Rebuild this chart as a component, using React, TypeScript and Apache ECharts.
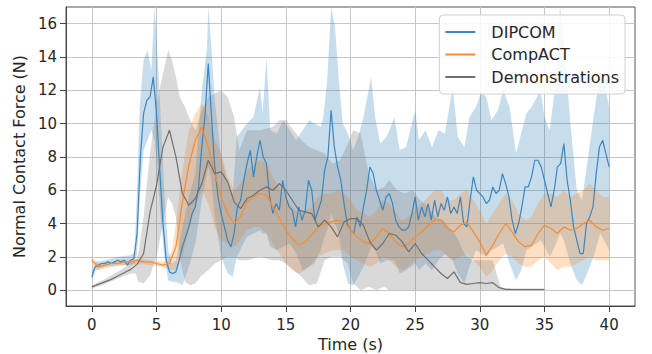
import React, { useEffect, useRef } from "react";
import * as echarts from "echarts";

const X_TICKS = [0, 5, 10, 15, 20, 25, 30, 35, 40];
const Y_TICKS = [0, 2, 4, 6, 8, 10, 12, 14, 16];

const SERIES_NAMES = ["DIPCOM", "CompACT", "Demonstrations"];

// DIPCOM mean, sampled every 0.25 s from t = 0
const DIPCOM_STEP = 0.25;
const DIPCOM_MEAN = [
  0.8, 1.4, 1.5, 1.6, 1.6, 1.7, 1.6, 1.7,
  1.8, 1.7, 1.8, 1.5, 1.8, 1.9, 3.4, 8.0,
  10.6, 11.4, 11.6, 12.8, 10.6, 7.2, 4.0, 1.8,
  1.1, 1.0, 1.1, 1.8, 2.6, 3.2, 3.8, 4.6,
  5.0, 6.2, 8.6, 10.5, 13.6, 10.4, 7.4, 5.6,
  4.6, 3.8, 3.0, 2.6, 3.4, 5.0, 5.4, 6.6,
  7.6, 8.4, 6.8, 8.0, 9.0, 8.0, 7.6, 5.6,
  4.6, 5.2, 4.8, 6.6, 5.6, 5.0, 4.8, 3.8,
  5.0, 4.2, 4.8, 6.6, 6.0, 4.2, 4.8, 5.4,
  7.2, 8.0, 10.8, 8.6, 7.4, 6.6, 5.2, 4.0,
  3.6, 3.4, 4.4, 3.8, 5.0, 6.0, 7.4, 7.0,
  6.0, 5.4, 4.8, 5.6, 5.8, 5.2, 4.2, 3.8,
  3.6, 3.6, 3.8, 4.6, 5.6, 4.2, 5.0, 4.4,
  5.2, 4.2, 5.4, 4.4, 5.2, 4.8, 5.6, 4.6,
  5.0, 4.6, 5.6, 4.0, 3.8, 5.4, 6.8, 6.0,
  5.8, 5.6, 5.2, 5.4, 6.2, 5.8, 6.0, 7.0,
  6.4, 5.6, 4.2, 3.4, 4.0, 5.0, 6.2, 6.2,
  6.8, 7.8, 7.8, 7.4, 6.6, 5.8, 5.0, 6.0,
  7.4, 7.6, 8.8, 6.6, 5.4, 3.8, 3.0, 2.2,
  2.2, 4.0, 4.4, 5.0, 7.0, 8.6, 9.0, 8.2,
  7.4,
];

// CompACT mean, sampled every 0.5 s from t = 0
const COMPACT_STEP = 0.5;
const COMPACT_MEAN = [
  1.8, 1.4, 1.5, 1.6, 1.6, 1.7, 1.7, 1.8, 1.7, 1.7,
  1.6, 1.5, 1.6, 2.6, 5.3, 7.5, 9.0, 9.8, 8.6, 7.0,
  5.6, 4.6, 4.0, 4.4, 5.3, 5.6, 5.8, 5.7, 5.0, 4.3,
  3.6, 3.1, 2.7, 2.9, 3.3, 3.8, 4.0, 4.1, 4.2, 4.1,
  3.6, 3.2, 2.9, 2.8, 3.2, 3.7, 3.4, 2.9, 2.6, 2.8,
  3.2, 3.5, 3.9, 4.2, 4.2, 3.7, 3.5, 3.9, 4.1, 3.5,
  2.9, 2.1, 2.7, 3.4, 4.0, 3.5, 2.9, 2.6, 2.7, 3.4,
  3.9, 3.7, 3.4, 3.8, 3.6, 3.7, 4.0, 4.2, 3.8, 3.6,
  3.7,
];

// Demonstrations mean, sampled every 0.5 s from t = 0
const DEMO_STEP = 0.5;
const DEMO_MEAN = [
  0.2, 0.35, 0.5, 0.65, 0.85, 1.05, 1.25, 1.55, 2.2, 4.7,
  6.3, 8.6, 9.6, 8.0, 5.8, 5.1, 5.5, 6.4, 7.8, 7.0,
  7.1, 6.5, 5.3, 4.9, 5.5, 5.7, 6.0, 6.2, 6.0, 6.4,
  6.0, 5.4, 4.8, 4.7, 4.6, 3.8, 4.2, 3.8, 3.2, 4.1,
  4.3, 4.3, 3.9, 2.9, 2.4, 2.8, 3.4, 3.3, 2.9, 2.3,
  2.8, 2.2, 1.8, 1.4, 1.0, 0.7, 1.1, 0.45, 0.35, 0.4,
  0.45, 0.4, 0.45, 0.15, 0.05, 0.04, 0.04, 0.04, 0.04, 0.04,
  0.04,
];

// [time, lower, upper]
const DIPCOM_BAND = [
  [0, 0.6, 1.1], [0.3, 1.2, 1.7], [1, 1.4, 1.8], [2, 1.5, 2.0], [3, 1.5, 2.1],
  [3.3, 1.6, 2.3], [3.5, 2.2, 6.0], [3.7, 5.5, 11.0], [4.0, 8.4, 13.8], [4.3, 9.0, 14.4],
  [4.6, 9.6, 13.2], [4.85, 9.0, 17.0], [5.0, 7.8, 15.2], [5.3, 4.6, 10.8], [5.6, 2.0, 6.0],
  [5.9, 0.6, 2.4], [6.2, 0.5, 1.6], [6.5, 0.5, 1.8], [7.0, 0.3, 3.8], [7.5, 1.4, 5.6],
  [8.0, 2.8, 7.0], [8.5, 5.4, 12.0], [8.9, 7.0, 14.5], [9.0, 7.4, 17.0], [9.2, 6.8, 15.0],
  [9.5, 4.4, 11.4], [10.0, 2.0, 8.0], [10.5, 1.0, 6.4], [10.9, 0.8, 5.8], [11.2, 2.0, 9.2],
  [11.6, 2.6, 9.6], [12.0, 3.2, 10.0], [12.5, 3.4, 10.4], [13.0, 3.6, 12.2], [13.2, 3.4, 10.6],
  [13.5, 3.4, 14.0], [13.8, 2.6, 9.6], [14.3, 2.4, 9.4], [14.8, 2.6, 10.2], [15.3, 2.8, 9.6],
  [15.8, 2.2, 9.0], [16.3, 1.2, 9.6], [16.8, 1.4, 10.2], [17.2, 1.6, 10.0], [17.7, 2.4, 9.8],
  [17.9, 3.0, 10.4], [18.2, 3.6, 12.6], [18.5, 4.6, 17.0], [18.8, 4.0, 15.8], [19.1, 3.4, 12.6],
  [19.4, 1.6, 10.0], [19.8, 0.4, 9.4], [20.2, 0.3, 8.4], [20.6, 0.8, 9.2], [21.0, 1.4, 10.4],
  [21.6, 2.6, 12.8], [21.9, 2.4, 10.4], [22.3, 1.6, 8.8], [22.8, 1.8, 9.2], [23.4, 1.8, 10.4],
  [23.8, 1.0, 8.4], [24.3, 1.2, 8.6], [25.0, 1.6, 10.8], [25.3, 1.2, 9.0], [25.8, 1.6, 9.6],
  [26.3, 1.2, 8.6], [26.8, 1.8, 9.6], [27.3, 2.2, 9.4], [27.9, 1.8, 12.2], [28.3, 1.0, 9.2],
  [28.8, 0.4, 8.6], [29.2, 1.4, 10.4], [29.7, 2.4, 11.0], [30.1, 2.2, 11.9], [30.5, 2.0, 11.6],
  [30.9, 2.4, 10.2], [31.4, 2.6, 10.8], [31.8, 2.8, 12.0], [32.3, 1.6, 11.0], [32.8, 0.6, 8.2],
  [33.2, 1.2, 9.4], [33.6, 2.4, 10.6], [34.0, 2.6, 11.0], [34.7, 3.0, 12.0], [35.0, 2.6, 10.4],
  [35.4, 2.0, 9.6], [35.8, 2.6, 12.0], [36.2, 3.4, 17.0], [36.5, 3.0, 15.0], [37.0, 1.6, 10.0],
  [37.5, 0.6, 6.0], [37.9, 0.3, 5.4], [38.3, 1.0, 7.6], [38.8, 2.0, 10.4], [39.3, 3.4, 13.0],
  [39.6, 3.0, 12.6], [40.0, 2.4, 11.0],
];

const COMPACT_BAND = [
  [0, 1.6, 2.0], [0.5, 1.2, 1.6], [1, 1.3, 1.7], [2, 1.45, 1.75], [3, 1.55, 1.85],
  [4, 1.55, 1.85], [5, 1.45, 1.75], [5.8, 1.3, 1.7], [6.2, 1.2, 2.4], [6.6, 1.2, 4.6],
  [7.0, 2.0, 7.2], [7.5, 3.6, 9.6], [8.0, 5.0, 10.6], [8.5, 6.0, 11.2], [9.0, 5.2, 10.4],
  [9.5, 3.8, 9.0], [10.0, 3.0, 8.2], [10.5, 2.8, 6.8], [11.0, 2.6, 6.0], [11.5, 3.0, 6.4],
  [12.0, 3.6, 7.2], [12.5, 3.8, 7.6], [13.0, 3.8, 7.8], [13.5, 3.4, 7.6], [14.0, 2.8, 6.8],
  [14.5, 2.2, 6.2], [15.0, 1.6, 5.6], [15.5, 1.2, 5.0], [16.0, 1.0, 4.6], [16.5, 1.2, 4.8],
  [17.0, 1.6, 5.0], [17.5, 2.0, 5.6], [18.0, 2.2, 5.8], [18.5, 2.4, 5.8], [19.0, 2.4, 6.0],
  [19.5, 2.4, 5.8], [20.0, 2.0, 5.4], [20.5, 1.8, 4.8], [21.0, 1.6, 4.6], [21.5, 1.4, 4.4],
  [22.0, 1.6, 4.8], [22.5, 2.0, 5.4], [23.0, 1.8, 5.2], [23.5, 1.4, 4.6], [24.0, 1.2, 4.2],
  [24.5, 1.4, 4.4], [25.0, 1.8, 4.8], [25.5, 2.0, 5.2], [26.0, 2.2, 5.6], [26.5, 2.4, 6.0],
  [27.0, 2.4, 6.0], [27.5, 2.0, 5.4], [28.0, 1.8, 5.4], [28.5, 2.0, 5.8], [29.0, 2.2, 6.0],
  [29.5, 1.8, 5.4], [30.0, 1.4, 4.8], [30.5, 0.8, 4.0], [31.0, 1.2, 4.6], [31.5, 1.8, 5.2],
  [32.0, 2.2, 5.8], [32.5, 2.0, 5.4], [33.0, 1.6, 4.6], [33.5, 1.4, 4.2], [34.0, 1.4, 4.4],
  [34.5, 1.8, 5.2], [35.0, 2.0, 5.8], [35.5, 1.6, 5.8], [36.0, 1.2, 5.6], [36.5, 1.4, 6.0],
  [37.0, 1.4, 5.6], [37.5, 1.6, 5.8], [38.0, 1.8, 6.0], [38.5, 2.0, 6.4], [39.0, 1.8, 6.0],
  [39.5, 1.8, 5.6], [40.0, 1.8, 5.6],
];

const DEMO_BAND = [
  [0, 0.1, 0.3], [1, 0.35, 0.65], [2, 0.7, 1.1], [3, 1.0, 1.6], [3.4, 1.0, 1.8],
  [3.6, 0.5, 2.2], [4.0, 0.4, 4.4], [4.5, 0.9, 8.2], [5.0, 2.0, 11.2], [5.5, 4.0, 13.0],
  [5.9, 5.6, 14.4], [6.2, 5.2, 13.8], [6.5, 4.4, 12.8], [6.8, 2.0, 11.6], [7.2, 0.5, 11.0],
  [7.6, 0.3, 10.2], [8.0, 0.4, 9.6], [8.5, 0.9, 10.8], [9.0, 1.2, 11.6], [9.5, 1.6, 11.8],
  [10.0, 1.8, 12.0], [10.5, 2.0, 11.6], [11.0, 2.0, 10.4], [11.4, 1.8, 8.4], [12.0, 1.8, 9.6],
  [13.0, 2.0, 9.6], [14.0, 1.8, 9.8], [14.5, 1.8, 10.2], [15.0, 1.6, 10.2], [15.6, 1.2, 9.6],
  [16.2, 0.8, 9.0], [16.8, 0.3, 8.6], [17.4, 0.4, 8.4], [18.0, 1.8, 8.2], [18.6, 2.0, 7.6],
  [19.2, 2.0, 7.8], [19.8, 1.6, 8.8], [20.2, 0.4, 9.6], [20.8, 0.0, 9.4], [21.4, 0.2, 7.0],
  [22.0, 0.0, 6.0], [22.6, 0.2, 6.2], [23.0, 0.0, 6.6], [23.6, 0.0, 6.0], [24.2, 0.0, 5.8],
  [24.8, 0.0, 6.0], [25.4, 0.0, 5.4], [26.0, 0.0, 5.0], [26.6, 0.0, 4.4], [27.2, 0.0, 4.2],
  [27.8, 0.0, 3.6], [28.2, 0.0, 3.2], [28.8, 0.0, 2.2], [29.4, 0.0, 1.8], [30.0, 0.0, 1.8],
  [30.6, 0.0, 1.8], [31.0, 0.0, 1.8], [31.3, 0.0, 1.0], [31.6, 0.0, 0.2], [32.0, 0.0, 0.1],
  [35.0, 0.0, 0.1],
];

const LINE_COLORS = ["#3a86c0", "#fb8b2c", "#707070"];
const BAND_COLORS = ["rgba(31,119,180,0.25)", "rgba(255,127,14,0.25)", "rgba(128,128,128,0.3)"];

function toPairs(values: number[], step: number) {
  return values.map((v, i) => [i * step, v]);
}

function bandSeries(band: number[][], color: string) {
  return {
    type: "custom",
    silent: true,
    clip: true,
    z: 1,
    encode: { x: 0, y: 1 },
    data: [[band[0][0], band[0][1]]],
    renderItem: (_params: any, api: any) => {
      const upper = band.map((b) => api.coord([b[0], b[2]]));
      const lower = band
        .slice()
        .reverse()
        .map((b) => api.coord([b[0], b[1]]));
      return {
        type: "polygon",
        shape: { points: upper.concat(lower) },
        style: { fill: color, stroke: "none" },
      };
    },
  };
}

function lineSeries(name: string, data: number[][], color: string) {
  return {
    type: "line",
    name,
    data,
    color,
    showSymbol: false,
    symbol: "none",
    z: 3,
    lineStyle: { color, width: 1.2 },
  };
}

export default function App() {
  const ref = useRef<HTMLDivElement>(null);

  useEffect(() => {
    if (!ref.current) return;
    const chart = echarts.init(ref.current, undefined, { renderer: "svg" });
    const font = "DejaVu Sans";
    const axisCommon = {
      axisLine: { show: true, onZero: false, lineStyle: { color: "#444444", width: 1 } },
      splitLine: { show: true, lineStyle: { color: "#c6c6c6", width: 1 } },
    };
    const option: any = {
      animation: false,
      backgroundColor: "#ffffff",
      textStyle: { fontFamily: font },
      grid: {
        left: 66,
        top: 7,
        width: 569,
        height: 299,
        containLabel: false,
        outerBoundsMode: "none",
        show: true,
        borderColor: "#555555",
        borderWidth: 1,
        backgroundColor: "transparent",
      },
      xAxis: {
        type: "value",
        min: -2,
        max: 42,
        name: "Time (s)",
        nameLocation: "middle",
        nameGap: 28,
        nameTextStyle: { fontSize: 16, color: "#262626", fontFamily: font },
        ...axisCommon,
        axisTick: { show: true, length: 6, customValues: X_TICKS, lineStyle: { color: "#444444" } },
        axisLabel: {
          customValues: X_TICKS,
          fontSize: 15,
          color: "#262626",
          margin: 11,
          fontFamily: font,
        },
      },
      yAxis: {
        type: "value",
        min: -0.95,
        max: 17,
        name: "Normal Contact Force (N)",
        nameLocation: "middle",
        nameGap: 31,
        nameTextStyle: { fontSize: 16, color: "#262626", fontFamily: font },
        ...axisCommon,
        axisTick: { show: true, length: 6, customValues: Y_TICKS, lineStyle: { color: "#444444" } },
        axisLabel: {
          customValues: Y_TICKS,
          fontSize: 15,
          color: "#262626",
          margin: 9,
          fontFamily: font,
        },
      },
      legend: {
        data: SERIES_NAMES,
        orient: "vertical",
        right: 27,
        top: 15,
        padding: [7, 6, 7, 6],
        itemGap: 2.5,
        itemWidth: 30,
        itemHeight: 2,
        icon: "rect",
        backgroundColor: "rgba(255,255,255,0.85)",
        borderColor: "#d0d0d0",
        borderWidth: 1,
        borderRadius: 4,
        textStyle: {
          fontSize: 16,
          color: "#262626",
          fontFamily: font,
          lineHeight: 20,
          padding: [0, 0, 0, 11],
        },
      },
      series: [
        bandSeries(DIPCOM_BAND, BAND_COLORS[0]),
        bandSeries(COMPACT_BAND, BAND_COLORS[1]),
        bandSeries(DEMO_BAND, BAND_COLORS[2]),
        lineSeries(SERIES_NAMES[0], toPairs(DIPCOM_MEAN, DIPCOM_STEP), LINE_COLORS[0]),
        lineSeries(SERIES_NAMES[1], toPairs(COMPACT_MEAN, COMPACT_STEP), LINE_COLORS[1]),
        lineSeries(SERIES_NAMES[2], toPairs(DEMO_MEAN, DEMO_STEP), LINE_COLORS[2]),
      ],
    };
    chart.setOption(option);
    return () => chart.dispose();
  }, []);

  return (
    <div
      ref={ref}
      style={{ position: "fixed", left: 0, top: 0, width: 652, height: 354, background: "#fff" }}
    />
  );
}
